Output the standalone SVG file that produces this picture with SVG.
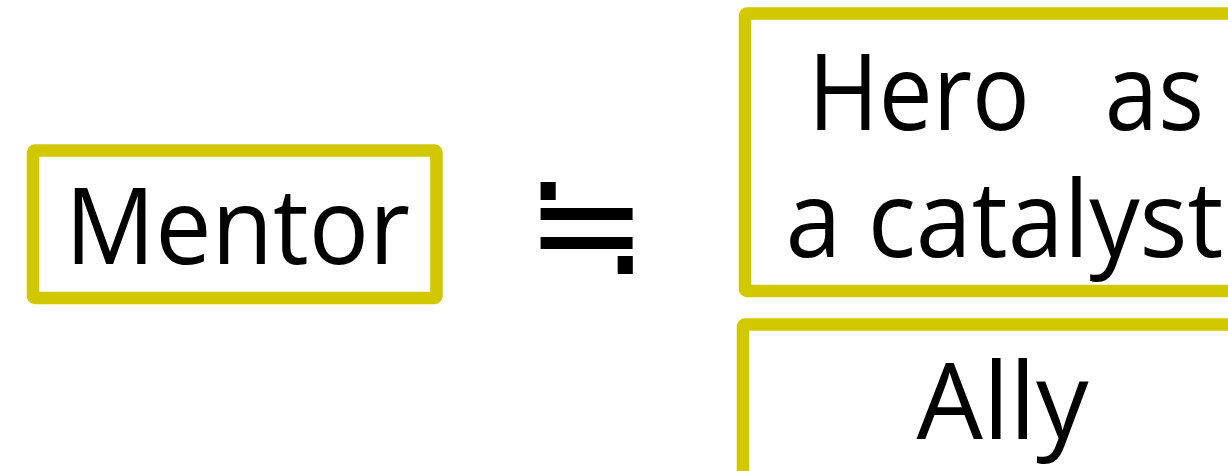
<svg xmlns="http://www.w3.org/2000/svg" width="1228" height="471" viewBox="0 0 1228 471">
<style>
.box{fill:#fff;stroke:#D2C800;stroke-width:12.5;stroke-linejoin:round}
.lbl{font-family:"Open Sans","Noto Sans",sans-serif;font-size:106px;fill:#000;text-anchor:middle;white-space:pre}
.sym{font-family:"Noto Sans CJK JP",sans-serif;font-size:147px;font-weight:300;fill:#000;text-anchor:middle}
</style>
<rect width="1228" height="471" fill="#fff"/>
<g id="mentor">
<rect class="box" x="33" y="150.5" width="403.5" height="147.5" rx="2"/>
<text class="lbl" x="237.5" y="264" textLength="345" lengthAdjust="spacingAndGlyphs">Mentor</text>
</g>
<g id="approx">
<text class="sym" x="586" y="273.5">≒</text>
</g>
<g id="hero">
<rect class="box" x="745" y="13.5" width="520" height="277.5" rx="2"/>
<text class="lbl" x="1006" y="129.5" textLength="396" lengthAdjust="spacingAndGlyphs">Hero   as</text>
<text class="lbl" x="1004.5" y="256.5" textLength="438" lengthAdjust="spacingAndGlyphs">a catalyst</text>
</g>
<g id="ally">
<rect class="box" x="743" y="324.5" width="520" height="200" rx="2"/>
<text class="lbl" x="1002.5" y="438.5" textLength="172" lengthAdjust="spacingAndGlyphs">Ally</text>
</g>
<g id="connectors"/>
</svg>
